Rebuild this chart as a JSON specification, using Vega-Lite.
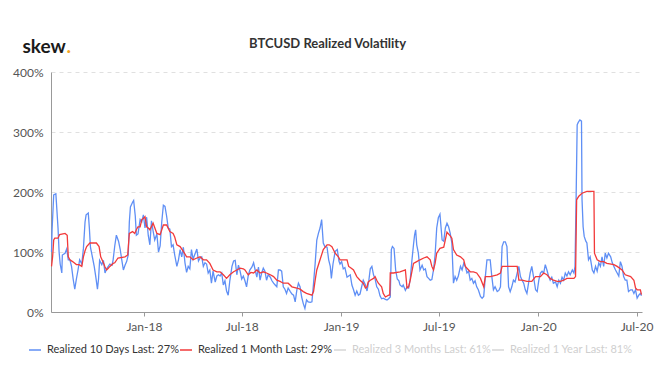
{
  "$schema": "https://vega.github.io/schema/vega-lite/v6.json",
  "autosize": {"type": "none"},
  "padding": {"left": 51, "top": 72, "right": 21, "bottom": 57},
  "width": 591,
  "height": 240,
  "background": "white",
  "config": {"view": {"stroke": null}, "font": "Lato"},
  "title": {"text": "BTCUSD Realized Volatility", "anchor": "middle", "dx": -19, "dy": 34, "offset": 20, "fontSize": 13, "fontWeight": "bold", "color": "#333333", "font": "Lato"},
  "datasets": {
    "b": [
      {"d":"2017-07-14","v":100},{"d":"2017-07-15","v":137},{"d":"2017-07-18","v":195},{"d":"2017-07-22","v":197},{"d":"2017-07-26","v":140},{"d":"2017-07-28","v":100},{"d":"2017-07-30","v":80},{"d":"2017-08-02","v":65},{"d":"2017-08-03","v":95},{"d":"2017-08-08","v":98},{"d":"2017-08-11","v":105},{"d":"2017-08-14","v":87},{"d":"2017-08-17","v":87},{"d":"2017-08-20","v":76},{"d":"2017-08-23","v":55},{"d":"2017-08-26","v":38},{"d":"2017-08-29","v":55},{"d":"2017-09-01","v":70},{"d":"2017-09-04","v":87},{"d":"2017-09-08","v":80},{"d":"2017-09-11","v":106},{"d":"2017-09-14","v":150},{"d":"2017-09-16","v":162},{"d":"2017-09-20","v":165},{"d":"2017-09-22","v":140},{"d":"2017-09-24","v":108},{"d":"2017-09-28","v":90},
      {"d":"2017-10-01","v":76},{"d":"2017-10-04","v":58},{"d":"2017-10-07","v":38},{"d":"2017-10-09","v":55},{"d":"2017-10-11","v":86},{"d":"2017-10-15","v":79},{"d":"2017-10-18","v":86},{"d":"2017-10-21","v":65},{"d":"2017-10-24","v":72},{"d":"2017-10-27","v":76},{"d":"2017-10-30","v":80},{"d":"2017-11-03","v":78},{"d":"2017-11-05","v":87},{"d":"2017-11-08","v":110},{"d":"2017-11-11","v":128},{"d":"2017-11-15","v":118},{"d":"2017-11-18","v":105},{"d":"2017-11-21","v":87},{"d":"2017-11-24","v":70},{"d":"2017-11-27","v":78},{"d":"2017-11-30","v":84},{"d":"2017-12-03","v":95},{"d":"2017-12-05","v":150},{"d":"2017-12-07","v":175},{"d":"2017-12-11","v":183},{"d":"2017-12-13","v":186},{"d":"2017-12-16","v":160},{"d":"2017-12-18","v":128},{"d":"2017-12-21","v":130},{"d":"2017-12-25","v":154},{"d":"2017-12-28","v":150},{"d":"2017-12-31","v":162},
      {"d":"2018-01-03","v":140},{"d":"2018-01-06","v":158},{"d":"2018-01-09","v":128},{"d":"2018-01-12","v":112},{"d":"2018-01-15","v":152},{"d":"2018-01-18","v":135},{"d":"2018-01-21","v":120},{"d":"2018-01-25","v":130},{"d":"2018-01-28","v":100},{"d":"2018-01-31","v":110},{"d":"2018-02-03","v":150},{"d":"2018-02-06","v":178},{"d":"2018-02-09","v":176},{"d":"2018-02-12","v":160},{"d":"2018-02-15","v":140},{"d":"2018-02-18","v":138},{"d":"2018-02-21","v":109},{"d":"2018-02-24","v":112},{"d":"2018-02-27","v":95},{"d":"2018-03-03","v":76},{"d":"2018-03-06","v":87},{"d":"2018-03-09","v":104},{"d":"2018-03-12","v":92},{"d":"2018-03-15","v":108},{"d":"2018-03-18","v":82},{"d":"2018-03-21","v":66},{"d":"2018-03-24","v":76},{"d":"2018-03-27","v":72},{"d":"2018-03-30","v":104},
      {"d":"2018-04-02","v":88},{"d":"2018-04-06","v":98},{"d":"2018-04-09","v":105},{"d":"2018-04-12","v":85},{"d":"2018-04-15","v":90},{"d":"2018-04-18","v":92},{"d":"2018-04-21","v":76},{"d":"2018-04-24","v":82},{"d":"2018-04-27","v":80},{"d":"2018-04-30","v":65},{"d":"2018-05-03","v":70},{"d":"2018-05-06","v":48},{"d":"2018-05-09","v":68},{"d":"2018-05-13","v":50},{"d":"2018-05-16","v":60},{"d":"2018-05-19","v":62},{"d":"2018-05-22","v":60},{"d":"2018-05-25","v":65},{"d":"2018-05-28","v":45},{"d":"2018-05-31","v":52},{"d":"2018-06-03","v":35},{"d":"2018-06-06","v":28},{"d":"2018-06-09","v":52},{"d":"2018-06-13","v":76},{"d":"2018-06-16","v":85},{"d":"2018-06-19","v":86},{"d":"2018-06-22","v":62},{"d":"2018-06-25","v":78},{"d":"2018-06-28","v":68},
      {"d":"2018-07-01","v":55},{"d":"2018-07-04","v":60},{"d":"2018-07-07","v":52},{"d":"2018-07-10","v":42},{"d":"2018-07-13","v":60},{"d":"2018-07-16","v":70},{"d":"2018-07-20","v":75},{"d":"2018-07-23","v":82},{"d":"2018-07-26","v":70},{"d":"2018-07-29","v":58},{"d":"2018-08-01","v":75},{"d":"2018-08-04","v":53},{"d":"2018-08-07","v":65},{"d":"2018-08-10","v":73},{"d":"2018-08-13","v":68},{"d":"2018-08-16","v":53},{"d":"2018-08-19","v":62},{"d":"2018-08-23","v":58},{"d":"2018-08-26","v":52},{"d":"2018-08-29","v":48},{"d":"2018-09-01","v":45},{"d":"2018-09-04","v":42},{"d":"2018-09-07","v":70},{"d":"2018-09-10","v":70},{"d":"2018-09-13","v":68},{"d":"2018-09-16","v":42},{"d":"2018-09-19","v":38},{"d":"2018-09-22","v":31},{"d":"2018-09-25","v":40},{"d":"2018-09-29","v":34},
      {"d":"2018-10-02","v":30},{"d":"2018-10-05","v":28},{"d":"2018-10-08","v":17},{"d":"2018-10-11","v":36},{"d":"2018-10-14","v":48},{"d":"2018-10-17","v":42},{"d":"2018-10-20","v":25},{"d":"2018-10-23","v":14},{"d":"2018-10-26","v":6},{"d":"2018-10-29","v":20},{"d":"2018-11-01","v":17},{"d":"2018-11-05","v":16},{"d":"2018-11-08","v":17},{"d":"2018-11-11","v":48},{"d":"2018-11-14","v":81},{"d":"2018-11-17","v":120},{"d":"2018-11-20","v":131},{"d":"2018-11-23","v":140},{"d":"2018-11-26","v":154},{"d":"2018-11-29","v":115},{"d":"2018-12-02","v":109},{"d":"2018-12-06","v":108},{"d":"2018-12-09","v":87},{"d":"2018-12-12","v":76},{"d":"2018-12-14","v":56},{"d":"2018-12-17","v":80},{"d":"2018-12-21","v":101},{"d":"2018-12-25","v":104},{"d":"2018-12-28","v":85},{"d":"2018-12-30","v":80},
      {"d":"2019-01-02","v":84},{"d":"2019-01-05","v":72},{"d":"2019-01-08","v":74},{"d":"2019-01-12","v":58},{"d":"2019-01-15","v":60},{"d":"2019-01-18","v":62},{"d":"2019-01-21","v":45},{"d":"2019-01-24","v":37},{"d":"2019-01-27","v":28},{"d":"2019-01-30","v":35},{"d":"2019-02-02","v":28},{"d":"2019-02-05","v":30},{"d":"2019-02-08","v":42},{"d":"2019-02-11","v":53},{"d":"2019-02-15","v":45},{"d":"2019-02-18","v":35},{"d":"2019-02-21","v":50},{"d":"2019-02-24","v":72},{"d":"2019-02-27","v":76},{"d":"2019-03-02","v":62},{"d":"2019-03-05","v":55},{"d":"2019-03-08","v":42},{"d":"2019-03-11","v":38},{"d":"2019-03-14","v":27},{"d":"2019-03-17","v":22},{"d":"2019-03-20","v":23},{"d":"2019-03-24","v":21},{"d":"2019-03-27","v":20},{"d":"2019-03-30","v":22},
      {"d":"2019-04-02","v":25},{"d":"2019-04-04","v":104},{"d":"2019-04-06","v":109},{"d":"2019-04-09","v":106},{"d":"2019-04-12","v":70},{"d":"2019-04-15","v":55},{"d":"2019-04-18","v":52},{"d":"2019-04-20","v":45},{"d":"2019-04-24","v":42},{"d":"2019-04-26","v":45},{"d":"2019-04-30","v":36},{"d":"2019-05-03","v":42},{"d":"2019-05-06","v":40},{"d":"2019-05-09","v":55},{"d":"2019-05-12","v":85},{"d":"2019-05-15","v":112},{"d":"2019-05-17","v":128},{"d":"2019-05-19","v":137},{"d":"2019-05-21","v":112},{"d":"2019-05-24","v":98},{"d":"2019-05-27","v":70},{"d":"2019-05-31","v":78},{"d":"2019-06-03","v":70},{"d":"2019-06-06","v":72},{"d":"2019-06-09","v":59},{"d":"2019-06-12","v":56},{"d":"2019-06-15","v":53},{"d":"2019-06-18","v":54},{"d":"2019-06-21","v":70},{"d":"2019-06-24","v":95},{"d":"2019-06-27","v":140},{"d":"2019-06-30","v":157},
      {"d":"2019-07-03","v":163},{"d":"2019-07-07","v":120},{"d":"2019-07-10","v":118},{"d":"2019-07-13","v":140},{"d":"2019-07-16","v":148},{"d":"2019-07-19","v":142},{"d":"2019-07-22","v":131},{"d":"2019-07-25","v":115},{"d":"2019-07-28","v":48},{"d":"2019-07-31","v":59},{"d":"2019-08-03","v":53},{"d":"2019-08-06","v":60},{"d":"2019-08-10","v":76},{"d":"2019-08-13","v":70},{"d":"2019-08-16","v":81},{"d":"2019-08-19","v":76},{"d":"2019-08-22","v":65},{"d":"2019-08-25","v":68},{"d":"2019-08-28","v":53},{"d":"2019-08-31","v":56},{"d":"2019-09-03","v":48},{"d":"2019-09-06","v":52},{"d":"2019-09-09","v":42},{"d":"2019-09-12","v":37},{"d":"2019-09-16","v":26},{"d":"2019-09-19","v":23},{"d":"2019-09-22","v":26},{"d":"2019-09-25","v":59},{"d":"2019-09-28","v":87},
      {"d":"2019-10-04","v":87},{"d":"2019-10-07","v":59},{"d":"2019-10-10","v":37},{"d":"2019-10-13","v":42},{"d":"2019-10-17","v":34},{"d":"2019-10-20","v":36},{"d":"2019-10-23","v":42},{"d":"2019-10-26","v":109},{"d":"2019-10-29","v":117},{"d":"2019-11-01","v":117},{"d":"2019-11-04","v":109},{"d":"2019-11-07","v":42},{"d":"2019-11-10","v":34},{"d":"2019-11-13","v":42},{"d":"2019-11-16","v":53},{"d":"2019-11-19","v":50},{"d":"2019-11-23","v":65},{"d":"2019-11-26","v":76},{"d":"2019-11-29","v":59},{"d":"2019-12-02","v":53},{"d":"2019-12-05","v":48},{"d":"2019-12-08","v":37},{"d":"2019-12-11","v":31},{"d":"2019-12-14","v":48},{"d":"2019-12-17","v":65},{"d":"2019-12-20","v":76},{"d":"2019-12-23","v":60},{"d":"2019-12-27","v":37},{"d":"2019-12-30","v":34},
      {"d":"2020-01-02","v":53},{"d":"2020-01-05","v":65},{"d":"2020-01-08","v":68},{"d":"2020-01-11","v":65},{"d":"2020-01-14","v":79},{"d":"2020-01-17","v":70},{"d":"2020-01-20","v":60},{"d":"2020-01-23","v":53},{"d":"2020-01-26","v":58},{"d":"2020-01-29","v":48},{"d":"2020-02-02","v":50},{"d":"2020-02-05","v":42},{"d":"2020-02-08","v":53},{"d":"2020-02-11","v":48},{"d":"2020-02-14","v":58},{"d":"2020-02-17","v":53},{"d":"2020-02-20","v":65},{"d":"2020-02-23","v":60},{"d":"2020-02-26","v":67},{"d":"2020-02-29","v":62},{"d":"2020-03-04","v":70},{"d":"2020-03-07","v":65},{"d":"2020-03-09","v":76},{"d":"2020-03-11","v":187},{"d":"2020-03-13","v":312},{"d":"2020-03-15","v":316},{"d":"2020-03-18","v":320},{"d":"2020-03-21","v":318},{"d":"2020-03-22","v":187},{"d":"2020-03-24","v":142},{"d":"2020-03-26","v":126},{"d":"2020-03-29","v":118},{"d":"2020-03-31","v":115},
      {"d":"2020-04-03","v":87},{"d":"2020-04-06","v":92},{"d":"2020-04-10","v":70},{"d":"2020-04-13","v":65},{"d":"2020-04-16","v":76},{"d":"2020-04-19","v":68},{"d":"2020-04-22","v":82},{"d":"2020-04-25","v":76},{"d":"2020-04-28","v":92},{"d":"2020-05-01","v":76},{"d":"2020-05-04","v":98},{"d":"2020-05-07","v":90},{"d":"2020-05-10","v":98},{"d":"2020-05-14","v":92},{"d":"2020-05-17","v":82},{"d":"2020-05-20","v":76},{"d":"2020-05-23","v":70},{"d":"2020-05-26","v":65},{"d":"2020-05-29","v":60},{"d":"2020-06-01","v":84},{"d":"2020-06-04","v":76},{"d":"2020-06-07","v":59},{"d":"2020-06-10","v":53},{"d":"2020-06-13","v":53},{"d":"2020-06-16","v":34},{"d":"2020-06-20","v":37},{"d":"2020-06-23","v":37},{"d":"2020-06-26","v":31},{"d":"2020-06-29","v":37},{"d":"2020-07-02","v":23},{"d":"2020-07-05","v":28},{"d":"2020-07-08","v":31},{"d":"2020-07-10","v":27}
    ],
    "r": [
      {"d":"2017-07-14","v":76},{"d":"2017-07-16","v":92},{"d":"2017-07-18","v":120},{"d":"2017-07-20","v":123},{"d":"2017-07-26","v":123},{"d":"2017-07-29","v":129},{"d":"2017-08-08","v":131},{"d":"2017-08-12","v":128},{"d":"2017-08-14","v":92},{"d":"2017-08-17","v":87},{"d":"2017-08-22","v":84},{"d":"2017-08-29","v":79},{"d":"2017-09-03","v":79},{"d":"2017-09-08","v":76},{"d":"2017-09-11","v":92},{"d":"2017-09-14","v":102},{"d":"2017-09-17","v":109},{"d":"2017-09-23","v":115},{"d":"2017-10-05","v":115},{"d":"2017-10-10","v":109},{"d":"2017-10-13","v":92},{"d":"2017-10-18","v":82},{"d":"2017-10-21","v":75},{"d":"2017-10-24","v":70},{"d":"2017-10-27","v":73},{"d":"2017-10-30","v":76},{"d":"2017-11-05","v":81},{"d":"2017-11-08","v":82},{"d":"2017-11-14","v":90},{"d":"2017-11-27","v":92},{"d":"2017-12-02","v":95},{"d":"2017-12-05","v":131},{"d":"2017-12-11","v":134},{"d":"2017-12-15","v":131},{"d":"2017-12-18","v":137},{"d":"2017-12-21","v":142},{"d":"2017-12-25","v":142},{"d":"2017-12-28","v":154},{"d":"2017-12-31","v":156},
      {"d":"2018-01-03","v":159},{"d":"2018-01-06","v":142},{"d":"2018-01-09","v":140},{"d":"2018-01-12","v":137},{"d":"2018-01-18","v":148},{"d":"2018-01-25","v":131},{"d":"2018-01-31","v":129},{"d":"2018-02-06","v":145},{"d":"2018-02-12","v":145},{"d":"2018-02-18","v":134},{"d":"2018-02-24","v":131},{"d":"2018-02-27","v":125},{"d":"2018-03-03","v":112},{"d":"2018-03-09","v":109},{"d":"2018-03-15","v":101},{"d":"2018-03-21","v":92},{"d":"2018-03-27","v":92},{"d":"2018-04-02","v":87},{"d":"2018-04-09","v":90},{"d":"2018-04-15","v":92},{"d":"2018-04-21","v":87},{"d":"2018-04-27","v":87},{"d":"2018-05-03","v":81},{"d":"2018-05-09","v":70},{"d":"2018-05-16","v":67},{"d":"2018-05-22","v":67},{"d":"2018-05-28","v":62},{"d":"2018-06-03","v":56},{"d":"2018-06-09","v":62},{"d":"2018-06-16","v":67},{"d":"2018-06-22","v":70},{"d":"2018-06-28","v":73},
      {"d":"2018-07-04","v":72},{"d":"2018-07-07","v":70},{"d":"2018-07-13","v":62},{"d":"2018-07-18","v":66},{"d":"2018-07-23","v":65},{"d":"2018-07-29","v":70},{"d":"2018-08-04","v":65},{"d":"2018-08-10","v":67},{"d":"2018-08-16","v":65},{"d":"2018-08-23","v":62},{"d":"2018-08-29","v":59},{"d":"2018-09-04","v":53},{"d":"2018-09-10","v":51},{"d":"2018-09-16","v":48},{"d":"2018-09-25","v":48},{"d":"2018-10-02","v":42},{"d":"2018-10-11","v":40},{"d":"2018-10-17","v":38},{"d":"2018-10-23","v":34},{"d":"2018-10-29","v":31},{"d":"2018-11-08","v":28},{"d":"2018-11-11","v":34},{"d":"2018-11-14","v":53},{"d":"2018-11-17","v":70},{"d":"2018-11-23","v":87},{"d":"2018-11-29","v":104},{"d":"2018-12-06","v":112},{"d":"2018-12-10","v":112},{"d":"2018-12-15","v":109},{"d":"2018-12-21","v":98},{"d":"2018-12-27","v":92},{"d":"2018-12-30","v":87},
      {"d":"2019-01-05","v":87},{"d":"2019-01-12","v":87},{"d":"2019-01-15","v":76},{"d":"2019-01-18","v":74},{"d":"2019-01-24","v":70},{"d":"2019-01-30","v":59},{"d":"2019-02-05","v":53},{"d":"2019-02-11","v":48},{"d":"2019-02-15","v":40},{"d":"2019-02-18","v":42},{"d":"2019-02-20","v":50},{"d":"2019-02-24","v":53},{"d":"2019-03-02","v":56},{"d":"2019-03-05","v":59},{"d":"2019-03-08","v":53},{"d":"2019-03-11","v":48},{"d":"2019-03-17","v":42},{"d":"2019-03-20","v":31},{"d":"2019-03-24","v":25},{"d":"2019-03-30","v":28},{"d":"2019-04-01","v":28},{"d":"2019-04-02","v":65},{"d":"2019-04-08","v":65},{"d":"2019-04-20","v":67},{"d":"2019-04-30","v":70},{"d":"2019-05-03","v":40},{"d":"2019-05-06","v":42},{"d":"2019-05-09","v":53},{"d":"2019-05-15","v":81},{"d":"2019-05-21","v":84},{"d":"2019-05-27","v":87},{"d":"2019-06-03","v":90},{"d":"2019-06-09","v":92},{"d":"2019-06-15","v":87},{"d":"2019-06-18","v":76},{"d":"2019-06-21","v":70},{"d":"2019-06-24","v":81},{"d":"2019-06-27","v":98},
      {"d":"2019-07-03","v":106},{"d":"2019-07-10","v":108},{"d":"2019-07-16","v":133},{"d":"2019-07-22","v":127},{"d":"2019-07-25","v":123},{"d":"2019-07-28","v":104},{"d":"2019-08-03","v":95},{"d":"2019-08-10","v":92},{"d":"2019-08-16","v":87},{"d":"2019-08-19","v":76},{"d":"2019-08-28","v":67},{"d":"2019-09-03","v":67},{"d":"2019-09-09","v":65},{"d":"2019-09-16","v":56},{"d":"2019-09-22","v":42},{"d":"2019-09-25","v":59},{"d":"2019-10-04","v":59},{"d":"2019-10-17","v":62},{"d":"2019-10-23","v":65},{"d":"2019-10-26","v":76},{"d":"2019-11-04","v":76},{"d":"2019-11-23","v":76},{"d":"2019-11-26","v":53},{"d":"2019-12-02","v":53},{"d":"2019-12-11","v":51},{"d":"2019-12-20","v":51},{"d":"2019-12-27","v":59},
      {"d":"2020-01-05","v":59},{"d":"2020-01-11","v":65},{"d":"2020-01-17","v":62},{"d":"2020-01-23","v":56},{"d":"2020-01-29","v":53},{"d":"2020-02-05","v":51},{"d":"2020-02-11","v":51},{"d":"2020-02-17","v":53},{"d":"2020-02-23","v":56},{"d":"2020-02-29","v":56},{"d":"2020-03-07","v":56},{"d":"2020-03-10","v":59},{"d":"2020-03-12","v":187},{"d":"2020-03-16","v":193},{"d":"2020-03-22","v":198},{"d":"2020-03-31","v":201},{"d":"2020-04-10","v":201},{"d":"2020-04-13","v":201},{"d":"2020-04-14","v":98},{"d":"2020-04-19","v":87},{"d":"2020-04-25","v":84},{"d":"2020-05-01","v":84},{"d":"2020-05-07","v":81},{"d":"2020-05-20","v":79},{"d":"2020-05-26","v":76},{"d":"2020-06-04","v":70},{"d":"2020-06-10","v":62},{"d":"2020-06-20","v":59},{"d":"2020-06-26","v":53},{"d":"2020-06-29","v":40},{"d":"2020-07-02","v":37},{"d":"2020-07-08","v":37},{"d":"2020-07-10","v":29}
    ]
  },
  "encoding": {
    "x": {
      "field": "d", "type": "temporal",
      "scale": {"domain": ["2017-07-13", "2020-07-11"]},
      "axis": {
        "format": "%b-%y", "tickCount": {"interval": "month", "step": 6},
        "grid": false, "labelFont": "Lato", "labelFontSize": 12, "labelColor": "#555555", "labelPadding": 5,
        "tickSize": 4, "tickColor": "#999999", "domainColor": "#999999",
        "title": ".", "titleX": 15, "titleY": -260, "titleAlign": "left", "titleBaseline": "alphabetic",
        "titleColor": "#f5a623", "titleFontSize": 19, "titleFontWeight": "bold", "titleFont": "Lato"
      }
    },
    "y": {
      "field": "v", "type": "quantitative",
      "scale": {"domain": [0, 400], "nice": false},
      "axis": {
        "values": [0, 100, 200, 300, 400], "labelExpr": "datum.value + '%'",
        "labelFont": "Lato", "labelFontSize": 12, "labelColor": "#555555", "labelPadding": 8,
        "ticks": false, "domainColor": "#999999",
        "grid": true, "gridDash": [4, 4], "gridColor": "#e0e0e0",
        "title": "skew", "titleAngle": 0, "titleX": -29, "titleY": -20, "titleAlign": "left", "titleBaseline": "alphabetic",
        "titleColor": "#1a1a1a", "titleFontSize": 19, "titleFontWeight": "bold", "titleFont": "Lato"
      }
    }
  },
  "layer": [
    {
      "data": {"name": "b"},
      "mark": {"type": "line", "strokeWidth": 1.3},
      "encoding": {
        "color": {
          "datum": "Realized 10 Days", "type": "nominal",
          "scale": {"domain": ["Realized 10 Days", "Realized 1 Month", "Realized 3 Months", "Realized 1 Year"], "range": ["#5f8ff5", "#f23a3a", "#d6d6d6", "#d6d6d6"]},
          "legend": {
            "orient": "none", "legendX": -23, "legendY": 271, "direction": "horizontal", "title": null,
            "symbolType": "stroke", "symbolSize": 144, "symbolStrokeWidth": 1.5, "columnPadding": -4, "labelOffset": 5,
            "labelFont": "Lato", "labelFontSize": 11,
            "labelColor": {"expr": "datum.value == 'Realized 3 Months' || datum.value == 'Realized 1 Year' ? '#cfcfcf' : '#333333'"},
            "labelExpr": "datum.value == 'Realized 10 Days' ? 'Realized 10 Days Last: 27%' : datum.value == 'Realized 1 Month' ? 'Realized 1 Month Last: 29%' : datum.value == 'Realized 3 Months' ? 'Realized 3 Months Last: 61%' : 'Realized 1 Year Last: 81%'"
          }
        }
      }
    },
    {
      "data": {"name": "r"},
      "mark": {"type": "line", "strokeWidth": 1.3},
      "encoding": {
        "color": {"datum": "Realized 1 Month", "type": "nominal"}
      }
    }
  ]
}
